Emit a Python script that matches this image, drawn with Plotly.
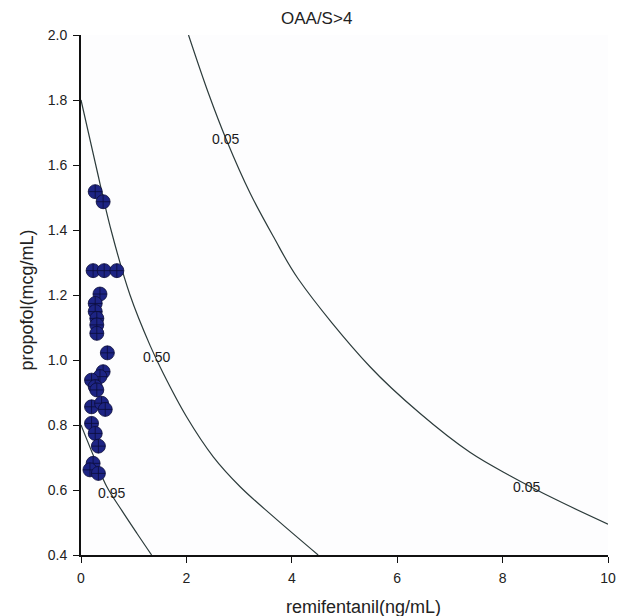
import plotly.graph_objects as go

# Observed data points (remifentanil ng/mL, propofol mcg/mL)
remi = [0.27, 0.42, 0.23, 0.44, 0.68, 0.36, 0.27, 0.27, 0.30, 0.30, 0.30, 0.50,
        0.42, 0.36, 0.20, 0.27, 0.30, 0.20, 0.39, 0.46, 0.20, 0.27, 0.33, 0.23,
        0.17, 0.33]
prop = [1.518, 1.487, 1.275, 1.275, 1.275, 1.203, 1.174, 1.149, 1.128, 1.108, 1.082, 1.022,
        0.964, 0.949, 0.938, 0.918, 0.908, 0.856, 0.867, 0.848, 0.805, 0.774, 0.735, 0.682,
        0.662, 0.651]

# Isobole curves
iso05_x = [2.04, 2.42, 2.76, 3.21, 3.65, 4.12, 5.48, 6.43, 7.38, 8.14, 9.03, 10.0]
iso05_y = [2.0, 1.82, 1.677, 1.513, 1.38, 1.25, 0.98, 0.836, 0.716, 0.644, 0.569, 0.495]
iso50_x = [0.0, 0.28, 0.57, 0.93, 1.31, 1.56, 2.0, 2.51, 3.02, 3.65, 4.50]
iso50_y = [1.8, 1.6, 1.4, 1.2, 1.045, 0.959, 0.826, 0.702, 0.610, 0.518, 0.4]
iso95_x = [0.0, 0.27, 0.49, 0.77, 1.06, 1.34]
iso95_y = [0.8, 0.692, 0.61, 0.538, 0.467, 0.4]

# Curve labels
label_text = ["0.05", "0.05", "0.50", "0.95"]
label_x = [2.75, 8.46, 1.44, 0.58]
label_y = [1.68, 0.61, 1.01, 0.592]

x_ticks = [0, 2, 4, 6, 8, 10]
y_ticks = [0.4, 0.6, 0.8, 1.0, 1.2, 1.4, 1.6, 1.8, 2.0]

FONT = "Liberation Sans, Arial"
TXT = "#222"
line_col = "#2c3b3b"

fig = go.Figure()
for xs, ys in [(iso05_x, iso05_y), (iso50_x, iso50_y), (iso95_x, iso95_y)]:
    fig.add_trace(go.Scatter(x=xs, y=ys, mode="lines",
                             line=dict(color=line_col, width=1.2, shape="spline", smoothing=1.0),
                             showlegend=False, hoverinfo="skip"))

fig.add_trace(go.Scatter(x=remi, y=prop, mode="markers",
                         marker=dict(symbol="circle-cross", size=14, color="#1d2484",
                                     line=dict(color="#0b0d3a", width=0.8)),
                         showlegend=False))

for t, lx, ly in zip(label_text, label_x, label_y):
    fig.add_annotation(x=lx, y=ly, text=t, showarrow=False,
                       font=dict(family=FONT, size=14, color="#1a1a1a"))

# Title and axis titles
fig.add_annotation(xref="paper", yref="paper", x=0.446, y=1.031, text="OAA/S>4",
                   showarrow=False, xanchor="center", yanchor="middle",
                   font=dict(family=FONT, size=17, color=TXT))
fig.add_annotation(xref="paper", yref="paper", x=0.537, y=-0.1, text="remifentanil(ng/mL)",
                   showarrow=False, xanchor="center", yanchor="middle",
                   font=dict(family=FONT, size=18, color=TXT))
fig.add_annotation(xref="paper", yref="paper", x=-0.102, y=0.49, text="propofol(mcg/mL)",
                   showarrow=False, xanchor="center", yanchor="middle", textangle=-90,
                   font=dict(family=FONT, size=18, color=TXT))

axis_common = dict(showgrid=False, zeroline=False, showline=True, linecolor="#111",
                   linewidth=2, ticks="outside", ticklen=6, tickcolor="#111", tickwidth=1,
                   ticklabelstandoff=3,
                   tickfont=dict(family=FONT, size=14, color=TXT), mirror=False)

fig.update_layout(
    width=628, height=616,
    margin=dict(l=81, r=20, t=35, b=61),
    paper_bgcolor="white", plot_bgcolor="#fdfdfe",
    xaxis=dict(range=[0, 10], tickvals=x_ticks, **axis_common),
    yaxis=dict(range=[0.4, 2.0], tickvals=y_ticks, tickformat=".1f", **axis_common),
)

fig.write_html("out.html")
